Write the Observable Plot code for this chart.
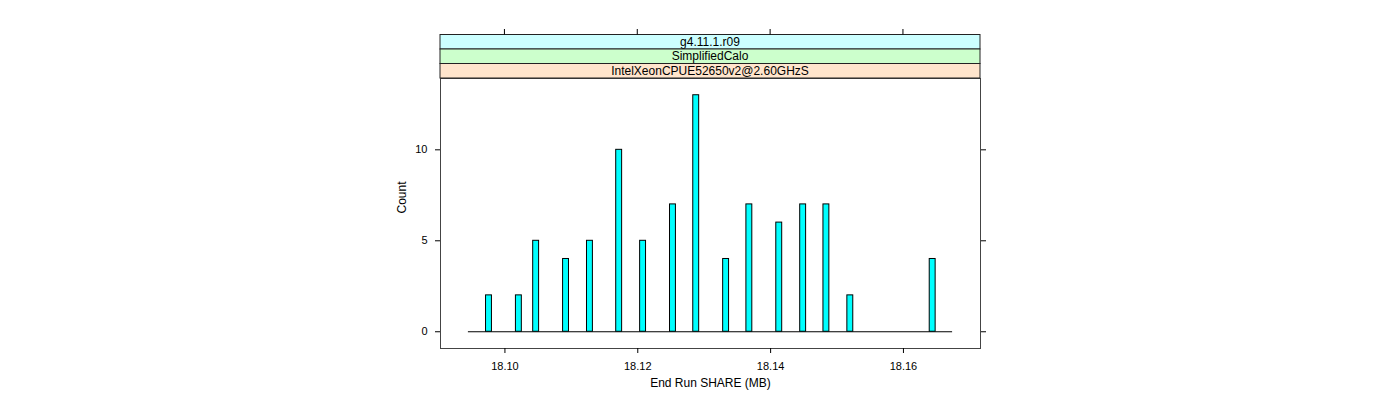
<!DOCTYPE html>
<html><head><meta charset="utf-8">
<script src="https://cdn.jsdelivr.net/npm/d3@7"></script>
<script src="https://cdn.jsdelivr.net/npm/@observablehq/plot@0.6"></script>
<style>
body{margin:0;background:#fff}
svg{font-family:"Liberation Sans",Arial,Helvetica,sans-serif}
</style>
</head><body><div id="chart"></div>
<script>
// Histogram bins (centre of bin, MB) and counts
const binCenters = [18.0976, 18.1021, 18.1047, 18.1092, 18.1128, 18.1172, 18.1208, 18.1253, 18.1288,
                    18.1333, 18.1368, 18.1413, 18.1449, 18.1484, 18.1520, 18.1644];
const counts     = [2, 2, 5, 4, 5, 10, 5, 7, 13, 4, 7, 6, 7, 7, 2, 4];
const binWidth = 0.00089;
const histRange = [18.0945, 18.1674];
const xTicks = [18.10, 18.12, 18.14, 18.16];
const yTicks = [0, 5, 10];
const stripLabels = ["g4.11.1.r09", "SimplifiedCalo", "IntelXeonCPUE52650v2@2.60GHzS"];
const stripColors = ["#ccffff", "#ccffcc", "#ffe5cc"];
const xLabel = "End Run SHARE (MB)";
const yLabel = "Count";

const bins = binCenters.map((c, i) => ({x1: c - binWidth / 2, x2: c + binWidth / 2, count: counts[i]}));

const W = 1400, H = 400;
const mLeft = 440, mRight = 420, mTop = 78, mBottom = 52;

const plot = Plot.plot({
  width: W, height: H,
  marginLeft: mLeft, marginRight: mRight, marginTop: mTop, marginBottom: mBottom,
  style: {fontFamily: '"Liberation Sans",Arial,Helvetica,sans-serif', fontSize: "11px", background: "#fff", color: "#000"},
  x: {domain: [18.0903, 18.1716]},
  y: {domain: [-0.92, 13.92]},
  marks: [
    Plot.ruleY([{x1: histRange[0], x2: histRange[1]}], {x1: "x1", x2: "x2", y: 0, stroke: "#000", strokeWidth: 1}),
    Plot.rectY(bins, {x1: "x1", x2: "x2", y1: 0, y2: "count", fill: "#00ffff", stroke: "#000", strokeWidth: 1}),
    Plot.frame({stroke: "#444"}),
    Plot.axisY({anchor: "left", ticks: yTicks, tickSize: 5, tickPadding: 8, label: null}),
    Plot.axisY({anchor: "right", ticks: yTicks, tickSize: 5, tickFormat: () => "", label: null}),
    Plot.axisX({anchor: "bottom", ticks: xTicks, tickSize: 5, tickPadding: 9, tickFormat: d3.format(".2f"), label: null}),
    Plot.text([xLabel], {frameAnchor: "bottom", dy: 38, text: d => d, fontSize: 12}),
    Plot.text([yLabel], {frameAnchor: "left", dx: -38, rotate: -90, text: d => d, fontSize: 12})
  ]
});

const svg = d3.select(plot);
const xs = plot.scale("x");
const stripTop = 34.5, stripH = (mTop - stripTop) / 3;
const g = svg.append("g");
stripLabels.forEach((lab, i) => {
  const y0 = stripTop + i * stripH;
  g.append("rect").attr("x", mLeft).attr("y", y0).attr("width", W - mLeft - mRight).attr("height", stripH)
    .attr("fill", stripColors[i]).attr("stroke", "#222").attr("stroke-width", 1);
  g.append("text").attr("x", mLeft + (W - mLeft - mRight) / 2).attr("y", y0 + stripH / 2)
    .attr("text-anchor", "middle").attr("dominant-baseline", "central")
    .attr("font-size", 12).attr("fill", "#000").text(lab);
});
// top ticks above strips
xTicks.forEach(t => {
  const x = xs.apply(t);
  g.append("line").attr("x1", x).attr("x2", x).attr("y1", stripTop).attr("y2", stripTop - 5.5)
    .attr("stroke", "#000");
});

document.getElementById("chart").appendChild(plot);
</script>
</body></html>
